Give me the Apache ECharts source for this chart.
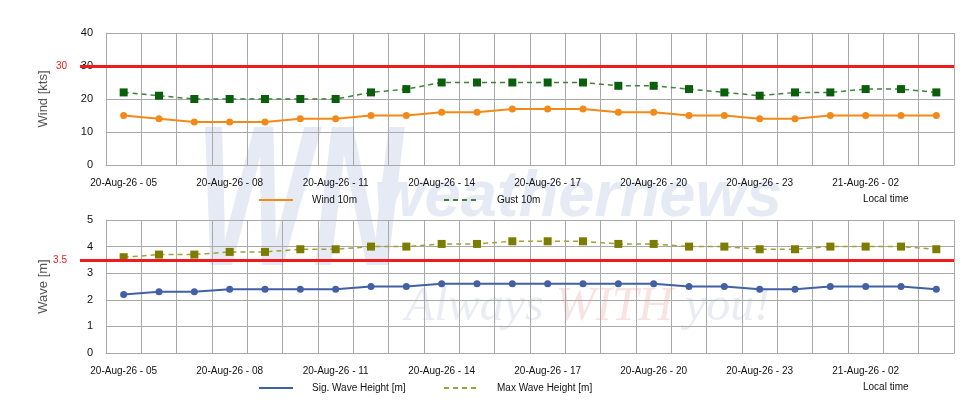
<!DOCTYPE html>
<html>
<head>
<meta charset="utf-8">
<title>Wind / Wave forecast</title>
<script src="https://cdn.jsdelivr.net/npm/echarts@6/dist/echarts.min.js"></script>
<style>
  html, body { margin: 0; padding: 0; background: #fff; }
  #chart { width: 980px; height: 420px; }
</style>
</head>
<body>
<div id="chart"></div>
<script>
// time steps (local time)
const categories = [
  '20-Aug-26 - 05', '20-Aug-26 - 06', '20-Aug-26 - 07', '20-Aug-26 - 08',
  '20-Aug-26 - 09', '20-Aug-26 - 10', '20-Aug-26 - 11', '20-Aug-26 - 12',
  '20-Aug-26 - 13', '20-Aug-26 - 14', '20-Aug-26 - 15', '20-Aug-26 - 16',
  '20-Aug-26 - 17', '20-Aug-26 - 18', '20-Aug-26 - 19', '20-Aug-26 - 20',
  '20-Aug-26 - 21', '20-Aug-26 - 22', '20-Aug-26 - 23', '21-Aug-26 - 00',
  '21-Aug-26 - 01', '21-Aug-26 - 02', '21-Aug-26 - 03', '21-Aug-26 - 04'
]
// kts
const wind10m = [15, 14, 13, 13, 13, 14, 14, 15, 15, 16, 16, 17, 17, 17, 16, 16, 15, 15, 14, 14, 15, 15, 15, 15]
const gust10m = [22, 21, 20, 20, 20, 20, 20, 22, 23, 25, 25, 25, 25, 25, 24, 24, 23, 22, 21, 22, 22, 23, 23, 22]
// m
const sigWave = [2.2, 2.3, 2.3, 2.4, 2.4, 2.4, 2.4, 2.5, 2.5, 2.6, 2.6, 2.6, 2.6, 2.6, 2.6, 2.6, 2.5, 2.5, 2.4, 2.4, 2.5, 2.5, 2.5, 2.4]
const maxWave = [3.6, 3.7, 3.7, 3.8, 3.8, 3.9, 3.9, 4.0, 4.0, 4.1, 4.1, 4.2, 4.2, 4.2, 4.1, 4.1, 4.0, 4.0, 3.9, 3.9, 4.0, 4.0, 4.0, 3.9]
// limits (red lines)
const windLimit = 30
const waveLimit = 3.5
// value axis ticks [min, max, step]
const windTicks = [0, 40, 10]
const waveTicks = [0, 5, 1]

const W = 980
const GRID_LEFT = 106
const GRID_RIGHT = 26
const GRID_COLOR = '#a9a9a9'
const RED = '#ee1c1c'
const FONT = '"Liberation Sans", Arial, sans-serif'
const MARK_BLUE = '#e6eaf4'

const myChart = echarts.init(document.getElementById('chart'))

function xAxisFor(gridIndex) {
  return {
    type: 'category',
    gridIndex: gridIndex,
    data: categories,
    boundaryGap: true,
    axisLine: { lineStyle: { color: GRID_COLOR } },
    axisTick: { show: false },
    axisLabel: { interval: 2, color: '#111', fontSize: 10, margin: 13 },
    splitLine: { show: true, interval: 0, lineStyle: { color: GRID_COLOR } },
  }
}

function yAxisFor(gridIndex, name, ticks) {
  return {
    type: 'value',
    gridIndex: gridIndex,
    min: ticks[0],
    max: ticks[1],
    interval: ticks[2],
    name: name,
    nameLocation: 'middle',
    nameGap: 56,
    nameTextStyle: { fontSize: 13, color: '#555' },
    axisLine: { show: true, lineStyle: { color: GRID_COLOR } },
    axisTick: { show: false },
    axisLabel: { color: '#111', fontSize: 11, margin: 13 },
    splitLine: { lineStyle: { color: GRID_COLOR } },
  }
}

function limitLine(value) {
  return {
    silent: true,
    symbol: 'none',
    animation: false,
    lineStyle: { color: RED, width: 3, type: 'solid' },
    label: { position: 'start', distance: 13, color: RED, fontSize: 10, formatter: String(value) },
    data: [[
      { x: GRID_LEFT - 26, yAxis: value },
      { x: W - GRID_RIGHT, yAxis: value },
    ]],
  }
}

const legendCommon = {
  selectedMode: false,
  padding: 0,
  itemWidth: 34,
  itemHeight: 10,
  itemStyle: { opacity: 0 },
  textStyle: { fontSize: 10, color: '#111', padding: [0, 0, 0, 14] },
}

const option = {
  animation: false,
  textStyle: { fontFamily: FONT },
  grid: [
    { left: GRID_LEFT, right: GRID_RIGHT, top: 33, height: 132 },
    { left: GRID_LEFT, right: GRID_RIGHT, top: 220, height: 133 },
  ],
  xAxis: [xAxisFor(0), xAxisFor(1)],
  yAxis: [
    yAxisFor(0, 'Wind [kts]', windTicks),
    yAxisFor(1, 'Wave [m]', waveTicks),
  ],
  legend: [
    Object.assign({ left: 258, top: 195, data: ['Wind 10m'] }, legendCommon),
    Object.assign({ left: 443, top: 195, data: ['Gust 10m'] }, legendCommon),
    Object.assign({ left: 258, top: 383, data: ['Sig. Wave Height [m]'] }, legendCommon),
    Object.assign({ left: 443, top: 383, data: ['Max Wave Height [m]'] }, legendCommon),
  ],
  title: [
    { text: 'Local time', left: 863, top: 194, padding: 0,
      textStyle: { fontSize: 10, fontWeight: 'normal', color: '#111' } },
    { text: 'Local time', left: 863, top: 382, padding: 0,
      textStyle: { fontSize: 10, fontWeight: 'normal', color: '#111' } },
  ],
  // weathernews watermark
  graphic: [
    { type: 'text', left: 196, top: 110, z: -10, silent: true, scaleX: 0.62,
      style: { text: 'WN', font: 'italic bold 200px "Liberation Sans"', fill: MARK_BLUE } },
    { type: 'text', left: 374, top: 166, z: -10, silent: true,
      style: { text: 'weathernews', font: 'italic bold 65px "Liberation Sans"', fill: MARK_BLUE } },
    { type: 'text', left: 405, top: 283, z: -10, silent: true,
      style: {
        text: '{a|Always }{b|WITH}{a| you!}',
        rich: {
          a: { fontFamily: '"Liberation Serif"', fontStyle: 'italic', fontSize: 48, fill: '#e9ecf3' },
          b: { fontFamily: '"Liberation Serif"', fontStyle: 'italic', fontSize: 48, fill: '#f9e2e2' },
        },
      } },
  ],
  series: [
    {
      name: 'Wind 10m',
      type: 'line',
      xAxisIndex: 0,
      yAxisIndex: 0,
      data: wind10m,
      symbol: 'circle',
      symbolSize: 7,
      color: '#f28a1a',
      lineStyle: { width: 2 },
      markLine: limitLine(windLimit),
    },
    {
      name: 'Gust 10m',
      type: 'line',
      xAxisIndex: 0,
      yAxisIndex: 0,
      data: gust10m,
      symbol: 'rect',
      symbolSize: 8,
      itemStyle: { color: '#0b5e0b' },
      lineStyle: { color: '#3f7f3f', width: 1.5, type: [5, 4] },
    },
    {
      name: 'Sig. Wave Height [m]',
      type: 'line',
      xAxisIndex: 1,
      yAxisIndex: 1,
      data: sigWave,
      symbol: 'circle',
      symbolSize: 7,
      color: '#4160a6',
      lineStyle: { width: 2 },
      markLine: limitLine(waveLimit),
    },
    {
      name: 'Max Wave Height [m]',
      type: 'line',
      xAxisIndex: 1,
      yAxisIndex: 1,
      data: maxWave,
      symbol: 'rect',
      symbolSize: 8,
      itemStyle: { color: '#7c7c00' },
      lineStyle: { color: '#a0a03c', width: 1.5, type: [5, 4] },
    },
  ],
}

myChart.setOption(option)
</script>
</body>
</html>
